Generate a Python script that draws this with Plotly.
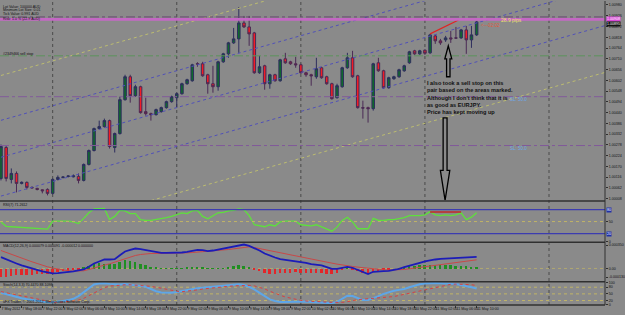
import plotly.graph_objects as go

# ---------------- data ----------------
bar_index = list(range(93))
time_label_index = [0, 4, 8, 12, 16, 20, 24, 28, 32, 36, 40, 44, 48, 52, 56, 60, 64, 68, 72, 76, 80, 84, 88, 92]
time_labels = ["7 May 2012", "7 May 18:00", "7 May 22:00", "8 May 02:00", "8 May 06:00", "8 May 10:00",
               "8 May 14:00", "8 May 18:00", "8 May 22:00", "9 May 02:00", "9 May 06:00", "9 May 10:00",
               "9 May 14:00", "9 May 18:00", "9 May 22:00", "10 May 02:00", "10 May 06:00", "10 May 10:00",
               "10 May 14:00", "10 May 18:00", "10 May 22:00", "11 May 02:00", "11 May 06:00", "11 May 10:00"]
day_start_index = [10, 34, 58, 82, 106]

price_open = [1.00110, 1.00265, 1.00105, 1.00135, 1.00085, 1.00090, 1.00065, 1.00060, 1.00053, 1.00055,
              1.00035, 1.00105, 1.00115, 1.00120, 1.00118, 1.00120, 1.00100, 1.00180, 1.00250, 1.00360,
              1.00370, 1.00400, 1.00265, 1.00335, 1.00505, 1.00620, 1.00525, 1.00570, 1.00445, 1.00435,
              1.00430, 1.00445, 1.00465, 1.00495, 1.00515, 1.00535, 1.00585, 1.00600, 1.00685, 1.00685,
              1.00630, 1.00585, 1.00570, 1.00695, 1.00735, 1.00790, 1.00810, 1.00890, 1.00870, 1.00840,
              1.00640, 1.00675, 1.00585, 1.00630, 1.00600, 1.00710, 1.00695, 1.00685, 1.00680, 1.00640,
              1.00630, 1.00620, 1.00665, 1.00620, 1.00585, 1.00515, 1.00570, 1.00665, 1.00715, 1.00625,
              1.00465, 1.00465, 1.00460, 1.00690, 1.00650, 1.00565, 1.00610, 1.00620, 1.00650, 1.00690,
              1.00750, 1.00735, 1.00753, 1.00740, 1.00825, 1.00800, 1.00805, 1.00815, 1.00815, 1.00815,
              1.00855, 1.00805, 1.00830]
price_high = [1.00280, 1.00275, 1.00160, 1.00145, 1.00095, 1.00095, 1.00070, 1.00063, 1.00055, 1.00060,
              1.00110, 1.00125, 1.00120, 1.00125, 1.00130, 1.00135, 1.00185, 1.00255, 1.00365, 1.00400,
              1.00410, 1.00405, 1.00340, 1.00520, 1.00630, 1.00630, 1.00580, 1.00575, 1.00515, 1.00440,
              1.00460, 1.00470, 1.00500, 1.00525, 1.00540, 1.00590, 1.00610, 1.00685, 1.00693, 1.00695,
              1.00635, 1.00675, 1.00700, 1.00740, 1.00795, 1.00865, 1.00970, 1.00925, 1.00925, 1.00845,
              1.00725, 1.00680, 1.00635, 1.00635, 1.00710, 1.00740, 1.00700, 1.00720, 1.00685, 1.00645,
              1.00635, 1.00715, 1.00670, 1.00625, 1.00590, 1.00585, 1.00670, 1.00740, 1.00750, 1.00630,
              1.00500, 1.00470, 1.00690, 1.00715, 1.00655, 1.00620, 1.00625, 1.00660, 1.00680, 1.00750,
              1.00755, 1.00755, 1.00758, 1.00835, 1.00830, 1.00810, 1.00825, 1.00850, 1.00870, 1.00860,
              1.00875, 1.00875, 1.00900]
price_low = [1.00100, 1.00095, 1.00085, 1.00040, 1.00080, 1.00055, 1.00058, 1.00050, 1.00035, 1.00025,
             1.00030, 1.00100, 1.00110, 1.00115, 1.00115, 1.00085, 1.00095, 1.00175, 1.00245, 1.00355,
             1.00365, 1.00260, 1.00240, 1.00330, 1.00500, 1.00490, 1.00520, 1.00435, 1.00425, 1.00400,
             1.00425, 1.00440, 1.00460, 1.00490, 1.00465, 1.00530, 1.00580, 1.00595, 1.00670, 1.00620,
             1.00535, 1.00540, 1.00550, 1.00690, 1.00715, 1.00785, 1.00740, 1.00865, 1.00775, 1.00635,
             1.00635, 1.00555, 1.00560, 1.00595, 1.00595, 1.00685, 1.00680, 1.00665, 1.00635, 1.00620,
             1.00575, 1.00610, 1.00610, 1.00580, 1.00505, 1.00510, 1.00565, 1.00660, 1.00615, 1.00460,
             1.00410, 1.00390, 1.00450, 1.00645, 1.00560, 1.00560, 1.00605, 1.00615, 1.00645, 1.00685,
             1.00730, 1.00730, 1.00730, 1.00735, 1.00785, 1.00780, 1.00795, 1.00790, 1.00810, 1.00810,
             1.00735, 1.00765, 1.00825]
price_close = [1.00270, 1.00110, 1.00135, 1.00085, 1.00090, 1.00065, 1.00063, 1.00055, 1.00048, 1.00035,
               1.00105, 1.00115, 1.00117, 1.00122, 1.00123, 1.00100, 1.00180, 1.00250, 1.00360, 1.00370,
               1.00400, 1.00270, 1.00335, 1.00505, 1.00620, 1.00525, 1.00570, 1.00440, 1.00435, 1.00430,
               1.00455, 1.00465, 1.00495, 1.00520, 1.00535, 1.00585, 1.00605, 1.00680, 1.00684, 1.00625,
               1.00585, 1.00570, 1.00695, 1.00735, 1.00790, 1.00810, 1.00890, 1.00870, 1.00835, 1.00640,
               1.00670, 1.00585, 1.00630, 1.00600, 1.00705, 1.00690, 1.00685, 1.00680, 1.00640, 1.00630,
               1.00625, 1.00660, 1.00615, 1.00585, 1.00510, 1.00575, 1.00665, 1.00715, 1.00620, 1.00465,
               1.00463, 1.00460, 1.00685, 1.00650, 1.00565, 1.00615, 1.00620, 1.00655, 1.00675, 1.00745,
               1.00735, 1.00750, 1.00738, 1.00830, 1.00800, 1.00790, 1.00815, 1.00810, 1.00814, 1.00855,
               1.00805, 1.00830, 1.00895]

rsi_values = [49, 38, 37, 36, 35, 34, 33, 32.5, 32, 31,
              51, 51, 51, 51, 49, 45, 58, 72, 82, 83,
              83, 55, 63, 78, 77, 70, 70, 55, 53, 53,
              55, 57, 60, 63, 67, 72, 70, 77, 78, 63,
              57, 65, 72, 73, 77, 78, 82, 80, 65, 42,
              39, 37, 42, 39, 49, 51, 51, 51, 42, 41,
              39, 42, 36, 32, 26, 36, 53, 61, 49, 32,
              32, 32, 58, 53, 53, 55, 55, 57, 60, 65,
              65, 65, 67, 75, 67, 65, 67, 65, 67, 72,
              55, 61, 72]

macd_main = [0.000170, 0.000135, 0.000100, 0.000075, 0.000045, 0.000020, -0.000005, -0.000030, -0.000045, -0.000060,
             -0.000075, -0.000070, -0.000065, -0.000060, -0.000045, -0.000030, -0.000015, 0.000025, 0.000075, 0.000105,
             0.000135, 0.000135, 0.000140, 0.000200, 0.000255, 0.000280, 0.000300, 0.000290, 0.000275, 0.000260,
             0.000240, 0.000235, 0.000235, 0.000235, 0.000235, 0.000240, 0.000250, 0.000260, 0.000280, 0.000275,
             0.000260, 0.000270, 0.000285, 0.000300, 0.000315, 0.000330, 0.000350, 0.000360, 0.000340, 0.000310,
             0.000270, 0.000225, 0.000190, 0.000165, 0.000140, 0.000130, 0.000115, 0.000105, 0.000095, 0.000085,
             0.000065, 0.000055, 0.000045, 0.000020, -0.000005, -0.000005, 0.000005, 0.000025, 0.000010, -0.000025,
             -0.000060, -0.000085, -0.000050, -0.000040, -0.000040, -0.000035, -0.000025, -0.000005, 0.000020, 0.000045,
             0.000065, 0.000085, 0.000105, 0.000125, 0.000135, 0.000145, 0.000150, 0.000150, 0.000155, 0.000165,
             0.000170, 0.000165, 0.000175]
macd_signal = [0.000270, 0.000240, 0.000210, 0.000180, 0.000150, 0.000125, 0.000100, 0.000075, 0.000045, 0.000025,
               0.000005, -0.000010, -0.000025, -0.000035, -0.000040, -0.000040, -0.000035, -0.000015, 0.000010, 0.000030,
               0.000050, 0.000070, 0.000095, 0.000120, 0.000150, 0.000175, 0.000195, 0.000210, 0.000220, 0.000225,
               0.000225, 0.000225, 0.000225, 0.000230, 0.000230, 0.000235, 0.000235, 0.000240, 0.000245, 0.000250,
               0.000255, 0.000260, 0.000265, 0.000275, 0.000285, 0.000295, 0.000305, 0.000315, 0.000325, 0.000315,
               0.000300, 0.000285, 0.000265, 0.000250, 0.000230, 0.000215, 0.000200, 0.000185, 0.000170, 0.000155,
               0.000140, 0.000125, 0.000110, 0.000095, 0.000080, 0.000065, 0.000050, 0.000040, 0.000030, 0.000020,
               0.000010, 0.000000, -0.000010, -0.000015, -0.000020, -0.000025, -0.000025, -0.000020, -0.000015, -0.000005,
               0.000005, 0.000015, 0.000030, 0.000040, 0.000050, 0.000060, 0.000070, 0.000080, 0.000090, 0.000100,
               0.000110, 0.000120, 0.000130]
macd_hist = [-0.000125, -0.000125, -0.000115, -0.000100, -0.000100, -0.000100, -0.000090, -0.000085, -0.000080, -0.000075,
             -0.000060, -0.000050, -0.000040, -0.000030, -0.000025, -0.000010, 0.000025, 0.000040, 0.000075, 0.000085,
             0.000075, 0.000075, 0.000075, 0.000100, 0.000125, 0.000110, 0.000100, 0.000075, 0.000050, 0.000025,
             0.000015, 0.000010, 0.000005, 0.000005, 0.000010, 0.000010, 0.000015, 0.000025, 0.000030, 0.000020,
             0.000010, 0.000005, 0.000005, 0.000010, 0.000025, 0.000040, 0.000050, 0.000040, 0.000020, -0.000010,
             -0.000040, -0.000060, -0.000075, -0.000080, -0.000070, -0.000060, -0.000060, -0.000050, -0.000060, -0.000060,
             -0.000060, -0.000065, -0.000070, -0.000075, -0.000080, -0.000060, -0.000025, 0.000010, -0.000010, -0.000040,
             -0.000060, -0.000075, -0.000050, -0.000040, -0.000025, -0.000010, 0.000000, 0.000010, 0.000025, 0.000035,
             0.000040, 0.000050, 0.000050, 0.000060, 0.000060, 0.000055, 0.000050, 0.000050, 0.000045, 0.000040,
             0.000035, 0.000030, 0.000025]

stoch_main = [55, 48, 42, 36, 30, 26, 22, 18, 15, 12,
              12, 14, 18, 22, 28, 40, 58, 78, 92, 97,
              98, 95, 93, 92, 94, 92, 88, 86, 82, 72,
              62, 56, 54, 55, 58, 63, 68, 72, 75, 78,
              80, 82, 84, 86, 88, 90, 93, 90, 82, 70,
              55, 38, 25, 18, 14, 14, 15, 17, 17, 16,
              14, 13, 12, 10, 8, 14, 30, 42, 40, 30,
              22, 22, 30, 40, 50, 58, 64, 68, 72, 80,
              88, 93, 97, 99, 99, 98, 98, 96, 94, 90,
              85, 80, 74]
stoch_signal = [60, 55, 50, 45, 40, 35, 30, 25, 20, 16,
                13, 12, 13, 15, 18, 22, 30, 42, 55, 68,
                78, 85, 88, 90, 91, 91, 90, 89, 87, 84,
                80, 75, 70, 65, 62, 60, 62, 65, 68, 72,
                75, 78, 80, 82, 84, 86, 87, 88, 88, 86,
                80, 72, 62, 52, 44, 36, 30, 25, 21, 18,
                16, 15, 14, 13, 12, 11, 12, 15, 20, 24,
                26, 28, 28, 29, 31, 34, 38, 43, 48, 53,
                58, 64, 70, 76, 81, 86, 90, 93, 94, 94,
                93, 91, 88]

price_tick_values = [1.00980, 1.00926, 1.00872, 1.00818, 1.00764, 1.00710, 1.00656, 1.00602, 1.00548, 1.00494,
                     1.00440, 1.00386, 1.00332, 1.00278, 1.00224, 1.00170, 1.00116, 1.00062, 1.00008]
rsi_tick_values = [100, 50, 0]
rsi_box_levels = [80, 20]
macd_tick_values = [0.000350, 0.0, -0.000130]
macd_tick_text = ["0.000350", "0.00", "-0.000130"]
stoch_tick_values = [100, 80, 50, 20, 0]

ask_level = 1.00920
order_level = 1.00908
sell_stop_level = 1.00725
target_levels = [1.00520, 1.00275]
bid_price = 1.00895

channel_x = [0, 117]
blue_channel = [[1.004014, 1.012580], [1.002164, 1.010730], [1.000214, 1.008780]]
yellow_channel = [[1.006264, 1.014830], [0.997864, 1.006430]]
trend_x = [83, 88.5]
trend_y = [1.00835, 1.00905]
rsi_trend_x = [83, 89]
rsi_trend_y = [74, 74]

up_arrow_x = [86.52, 87.19, 86.85, 86.85, 86.19, 86.19, 85.85]
up_arrow_y = [1.00775, 1.00710, 1.00710, 1.00620, 1.00620, 1.00710, 1.00710]
down_arrow_x = [85.52, 86.28, 86.28, 86.81, 85.90, 84.99, 85.52]
down_arrow_y = [1.004135, 1.004135, 1.00150, 1.00150, 1.00000, 1.00150, 1.00150]

# ---------------- figure ----------------
BG = "#8a8a8a"
TXT = "#111111"
FONT = "Liberation Sans"
H = 305.0


def py(y):
    return (H - y) / H


fig = go.Figure()

for line in yellow_channel:
    fig.add_trace(go.Scatter(x=channel_x, y=line, mode="lines", xaxis="x", yaxis="y",
                             line=dict(color="#bcbc70", width=1, dash="dot"), hoverinfo="skip"))
for line in blue_channel:
    fig.add_trace(go.Scatter(x=channel_x, y=line, mode="lines", xaxis="x", yaxis="y",
                             line=dict(color="#5050b8", width=1, dash="dot"), hoverinfo="skip"))

fig.add_trace(go.Candlestick(
    x=bar_index, open=price_open, high=price_high, low=price_low, close=price_close,
    xaxis="x", yaxis="y", whiskerwidth=0,
    increasing=dict(fillcolor="#0f6a2c", line=dict(color="#2e2e5e", width=1)),
    decreasing=dict(fillcolor="#f21c26", line=dict(color="#4a2a55", width=1)),
    hoverinfo="skip"))

fig.add_trace(go.Scatter(x=trend_x, y=trend_y, mode="lines", xaxis="x", yaxis="y",
                         line=dict(color="#e02424", width=1.2), hoverinfo="skip"))

# RSI
fig.add_trace(go.Scatter(x=bar_index, y=rsi_values, mode="lines", xaxis="x", yaxis="y2",
                         line=dict(color="#5ee03c", width=1.3), hoverinfo="skip"))
fig.add_trace(go.Scatter(x=rsi_trend_x, y=rsi_trend_y, mode="lines", xaxis="x", yaxis="y2",
                         line=dict(color="#c02828", width=1.5), hoverinfo="skip"))

# MACD
hist_colors = ["#1f8f22" if v >= 0 else "#e3262a" for v in macd_hist]
fig.add_trace(go.Bar(x=bar_index, y=macd_hist, xaxis="x", yaxis="y3", width=0.38,
                     marker=dict(color=hist_colors, line=dict(width=0)), hoverinfo="skip"))
fig.add_trace(go.Scatter(x=bar_index, y=macd_signal, mode="lines", xaxis="x", yaxis="y3",
                         line=dict(color="#c84848", width=1), hoverinfo="skip"))
fig.add_trace(go.Scatter(x=bar_index, y=macd_main, mode="lines", xaxis="x", yaxis="y3",
                         line=dict(color="#1c1cb8", width=1.8), hoverinfo="skip"))

# Stochastic
fig.add_trace(go.Scatter(x=bar_index, y=stoch_main, mode="lines", xaxis="x", yaxis="y4",
                         line=dict(color="#5ea6e8", width=2), hoverinfo="skip"))
fig.add_trace(go.Scatter(x=bar_index, y=stoch_signal, mode="lines", xaxis="x", yaxis="y4",
                         line=dict(color="#d84040", width=1, dash="dot"), hoverinfo="skip"))

shapes = []
for d in day_start_index:
    shapes.append(dict(type="line", xref="x", yref="paper", x0=d, x1=d, y0=0, y1=1,
                       line=dict(color="#4a4a4a", width=1, dash="dot"), layer="below"))
shapes.append(dict(type="line", xref="paper", yref="y", x0=0, x1=1, y0=ask_level, y1=ask_level,
                   line=dict(color="#6a4a72", width=1, dash="dashdot")))
shapes.append(dict(type="line", xref="paper", yref="y", x0=0, x1=1, y0=order_level, y1=order_level,
                   line=dict(color="#c468c4", width=2.6)))
shapes.append(dict(type="line", xref="paper", yref="y", x0=0, x1=1, y0=sell_stop_level, y1=sell_stop_level,
                   line=dict(color="#5c935c", width=1, dash="dashdot")))
for lv in target_levels:
    shapes.append(dict(type="line", xref="paper", yref="y", x0=0, x1=1, y0=lv, y1=lv,
                       line=dict(color="#825a9a", width=1, dash="dashdot")))
for lv in rsi_box_levels:
    shapes.append(dict(type="line", xref="paper", yref="y2", x0=0, x1=1, y0=lv, y1=lv,
                       line=dict(color="#3c3cb0", width=1.2)))
shapes.append(dict(type="line", xref="paper", yref="y2", x0=0, x1=1, y0=50, y1=50,
                   line=dict(color="#c0b466", width=1, dash="dot")))
shapes.append(dict(type="line", xref="paper", yref="y3", x0=0, x1=1, y0=0, y1=0,
                   line=dict(color="#b0a870", width=1, dash="dot"), layer="below"))
for lv in [80, 50, 20]:
    shapes.append(dict(type="line", xref="paper", yref="y4", x0=0, x1=1, y0=lv, y1=lv,
                       line=dict(color="#c0b466", width=1, dash="dot"), layer="below"))
up_path = "M " + " L ".join(f"{a},{b}" for a, b in zip(up_arrow_x, up_arrow_y)) + " Z"
down_path = "M " + " L ".join(f"{a},{b}" for a, b in zip(down_arrow_x, down_arrow_y)) + " Z"
for p in (up_path, down_path):
    shapes.append(dict(type="path", xref="x", yref="y", path=p,
                       line=dict(color="#000000", width=1.3), fillcolor=BG))
for yy in [200.6, 242.0, 281.6, 305.0]:
    shapes.append(dict(type="line", xref="paper", yref="paper", x0=0, x1=1, y0=py(yy), y1=py(yy),
                       line=dict(color="#303030", width=1.6)))
shapes.append(dict(type="line", xref="paper", yref="paper", x0=1, x1=1, y0=0, y1=1,
                   line=dict(color="#303030", width=1)))

ann = []


def txt(text, x, y, xref="paper", yref="paper", size=4, color=TXT, xanchor="left", yanchor="middle",
        bold=False, bg=None, family=FONT):
    d = dict(text=f"<b>{text}</b>" if bold else text, x=x, y=y, xref=xref, yref=yref, showarrow=False,
             xanchor=xanchor, yanchor=yanchor, align="left",
             font=dict(size=size, color=color, family=family), borderpad=0)
    if bg:
        d["bgcolor"] = bg
    ann.append(d)


txt("Lot Value: 100000 AUD", 0.004, py(5.7), size=3.6)
txt("Minimum Lot Size: 0.01", 0.004, py(9.5), size=3.6)
txt("Tick Value: 0.991 AUD", 0.004, py(13.4), size=3.6)
txt("Risk: 1.0 % (22.9 AUD)", 0.004, py(17.6), size=3.6)
txt("#2349466 sell stop", 0.004, py(53.3), size=3.6)
txt("RSI(7) 71.2612", 0.004, py(204.5), size=3.6)
txt("MACD(12,26,9) 0.000079 0.000091 -0.000012 0.000000", 0.004, py(245.5), size=3.6)
txt("Stoch(14,3,3) 70.4470 88.1098", 0.004, py(284.5), size=3.6)
txt("uFX Trader, © 2001-2012, MetaQuotes Software Corp.", 0.004, py(302.0), size=3.6)

txt("28.9 pips", 96.6, 1.00903, xref="x", yref="y", size=5, color="#f0e46a")
txt("<---02:02", 92.7, 1.00878, xref="x", yref="y", size=4.5, color="#e0583a")
txt("SL: 50.0", 98.3, 1.00505, xref="x", yref="y", size=4.5, color="#6ea8e8")
txt("SL: 50.0", 98.3, 1.00260, xref="x", yref="y", size=4.5, color="#6ea8e8")
txt("I also took a sell stop on this<br>pair based on the areas marked.<br>Although I don't think that it is"
    "<br>as good as EURJPY.<br>Price has kept moving up",
    82.3, 1.00608, xref="x", yref="y", size=5.6, yanchor="top", bold=True,
    family="Liberation Sans Narrow, Arial Narrow, Liberation Sans")

txt("1.00908", 1.002, order_level, yref="y", size=3.6, color="#ffffff", bg="#d846d8")
txt("1.00895", 1.002, bid_price - 0.00008, yref="y", size=3.6, color="#ffffff", bg="#111111")
for lv in rsi_box_levels:
    txt(str(lv), 1.002, lv, yref="y2", size=3.6, color="#ffffff", bg="#2030a8")

axis_common = dict(side="right", anchor="x", showgrid=False, zeroline=False, ticks="outside", ticklen=2,
                   tickcolor="#303030", tickfont=dict(size=3.6, color=TXT, family=FONT), showline=False,
                   fixedrange=True)

fig.update_layout(
    width=625, height=315,
    margin=dict(l=0, r=13, t=0, b=10),
    paper_bgcolor=BG, plot_bgcolor=BG,
    showlegend=False, bargap=0,
    shapes=shapes, annotations=ann,
    xaxis=dict(domain=[0, 1], anchor="y4", range=[-0.19, 116.83], showgrid=False, zeroline=False,
               tickvals=time_label_index, ticktext=time_labels, ticks="outside", ticklen=2,
               tickangle=0, tickcolor="#303030", ticklabelposition="outside right",
               tickfont=dict(size=3.6, color=TXT, family=FONT), rangeslider=dict(visible=False),
               showline=False),
    yaxis=dict(domain=[0.34426, 1], range=[1.0, 1.01], tickvals=price_tick_values,
               ticktext=[f"{v:.5f}" for v in price_tick_values], **axis_common),
    yaxis2=dict(domain=[0.20820, 0.33934], range=[-0.5, 99.5], tickvals=rsi_tick_values, **axis_common),
    yaxis3=dict(domain=[0.07869, 0.20492], range=[-0.00019, 0.0003875], tickvals=macd_tick_values,
                ticktext=macd_tick_text, **axis_common),
    yaxis4=dict(domain=[0, 0.07541], range=[0, 103.1], tickvals=stoch_tick_values, **axis_common),
)

fig.write_html("out.html")
